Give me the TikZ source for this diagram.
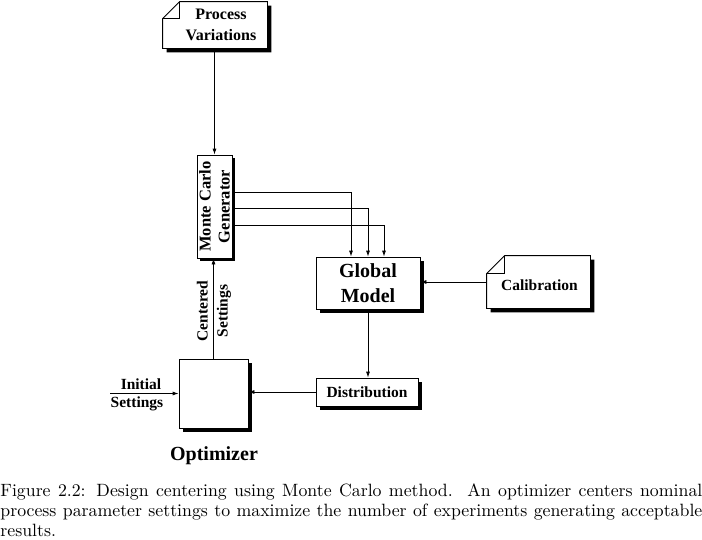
\documentclass[tikz,border=0pt]{standalone}
\usepackage{fontspec}
\newfontfamily\tms{Liberation Serif}
\newfontfamily\capfont{lmroman10-regular}[Extension=.otf]
\usetikzlibrary{arrows.meta}
\begin{document}
\begin{tikzpicture}[x=1pt,y=-1pt,
  line width=0.8pt,
  arr/.style={-{Latex[length=6pt,width=4pt]}},
  boxstyle/.style={draw,fill=white,inner sep=0pt},
  small/.style={font=\tms\bfseries\fontsize{15.5}{20}\selectfont},
  big/.style={font=\tms\bfseries\fontsize{20}{25}\selectfont},
  shadowfill/.style={fill=black,draw=none}
]
\useasboundingbox (0,0) rectangle (702,539);

% --- shadows of plain boxes (drawn first) ---
\fill[shadowfill] (200,158) rectangle (235,261);
\fill[shadowfill] (320,261) rectangle (424,313);
\fill[shadowfill] (320,382) rectangle (422,410);
\fill[shadowfill] (183,363) rectangle (252,432);

% --- note: Process Variations ---
\node[minimum width=104pt,minimum height=46pt,inner sep=0pt] (pv) at (215,25) {};
\fill[shadowfill] ([xshift=4pt,yshift=-21pt]pv.north west) -- ([xshift=21pt,yshift=-4pt]pv.north west) -- ([xshift=4pt,yshift=-4pt]pv.north east) -- ([xshift=4pt,yshift=-4pt]pv.south east) -- ([xshift=4pt,yshift=-4pt]pv.south west) -- cycle;
\draw[fill=white] ([yshift=-17pt]pv.north west) -- ([xshift=17pt]pv.north west) -- (pv.north east) -- (pv.south east) -- (pv.south west) -- cycle;
\draw ([yshift=-17pt]pv.north west) -| ([xshift=17pt]pv.north west);
\node[align=center,font=\tms\bfseries\fontsize{16}{21}\selectfont] (pvt) at ([xshift=6pt]pv.center) {Process\\Variations};

\node[boxstyle,minimum width=35pt,minimum height=103pt] (mc) at (214.5,206.5) {};
\node[align=center,rotate=90,font=\tms\bfseries\fontsize{16.5}{19}\selectfont] (mct) at (mc.center) {Monte Carlo\\Generator};

\node[boxstyle,minimum width=104pt,minimum height=52pt,big,align=center] (gm) at (368,283) {Global\\Model};

% --- note: Calibration ---
\node[minimum width=103pt,minimum height=52pt,inner sep=0pt] (cal) at (538.5,282) {};
\fill[shadowfill] ([xshift=4pt,yshift=-22pt]cal.north west) -- ([xshift=22pt,yshift=-4pt]cal.north west) -- ([xshift=4pt,yshift=-4pt]cal.north east) -- ([xshift=4pt,yshift=-4pt]cal.south east) -- ([xshift=4pt,yshift=-4pt]cal.south west) -- cycle;
\draw[fill=white] ([yshift=-18pt]cal.north west) -- ([xshift=18pt]cal.north west) -- (cal.north east) -- (cal.south east) -- (cal.south west) -- cycle;
\draw ([yshift=-18pt]cal.north west) -| ([xshift=18pt]cal.north west);
\node[small] (calt) at ([xshift=1pt,yshift=-3pt]cal.center) {Calibration};

\node[boxstyle,minimum width=102pt,minimum height=28pt,small] (dist) at (367,392) {Distribution};

\node[boxstyle,minimum width=69pt,minimum height=69pt] (opt) at (213.5,393.5) {};
\node[big] (optl) at (214,456) {Optimizer};

% --- connectors ---
\draw[arr] (pv.south -| mc.north) -- (mc.north);
\draw[arr] ([yshift=-18.5pt]mc.east) -| ([xshift=16pt]gm.north);
\draw[arr] ([yshift=-1.5pt]mc.east) -| (gm.north);
\draw[arr] ([yshift=14.5pt]mc.east) -| ([xshift=-17pt]gm.north);
\draw[arr] (cal.west) -- (cal.west -| gm.east);
\draw[arr] (gm.south) -- (gm.south |- dist.north);
\draw[arr] (dist.west) -- (dist.west -| opt.east);
\draw[arr] (opt.north) -- (opt.north |- mc.south);
\coordinate (init) at (110,393.5);
\draw[arr] (init) -- (opt.west);
\node[small,anchor=south] (initl) at (141,393.5) {Initial};
\node[small,anchor=north] (setl) at (137,393.5) {Settings};
\node[small,align=center,rotate=90] (cs) at (214,311) {Centered\\Settings};

% --- caption ---
\node[anchor=north west,inner sep=0pt,text width=702pt,align=justify,
      font=\capfont\fontsize{17.8}{20}\selectfont] (cap) at (0,483)
{Figure 2.2: Design centering using Monte Carlo method.\ \ An optimizer centers nominal\linebreak
process parameter settings to maximize the number of experiments generating acceptable\linebreak
results.};
\end{tikzpicture}
\end{document}
